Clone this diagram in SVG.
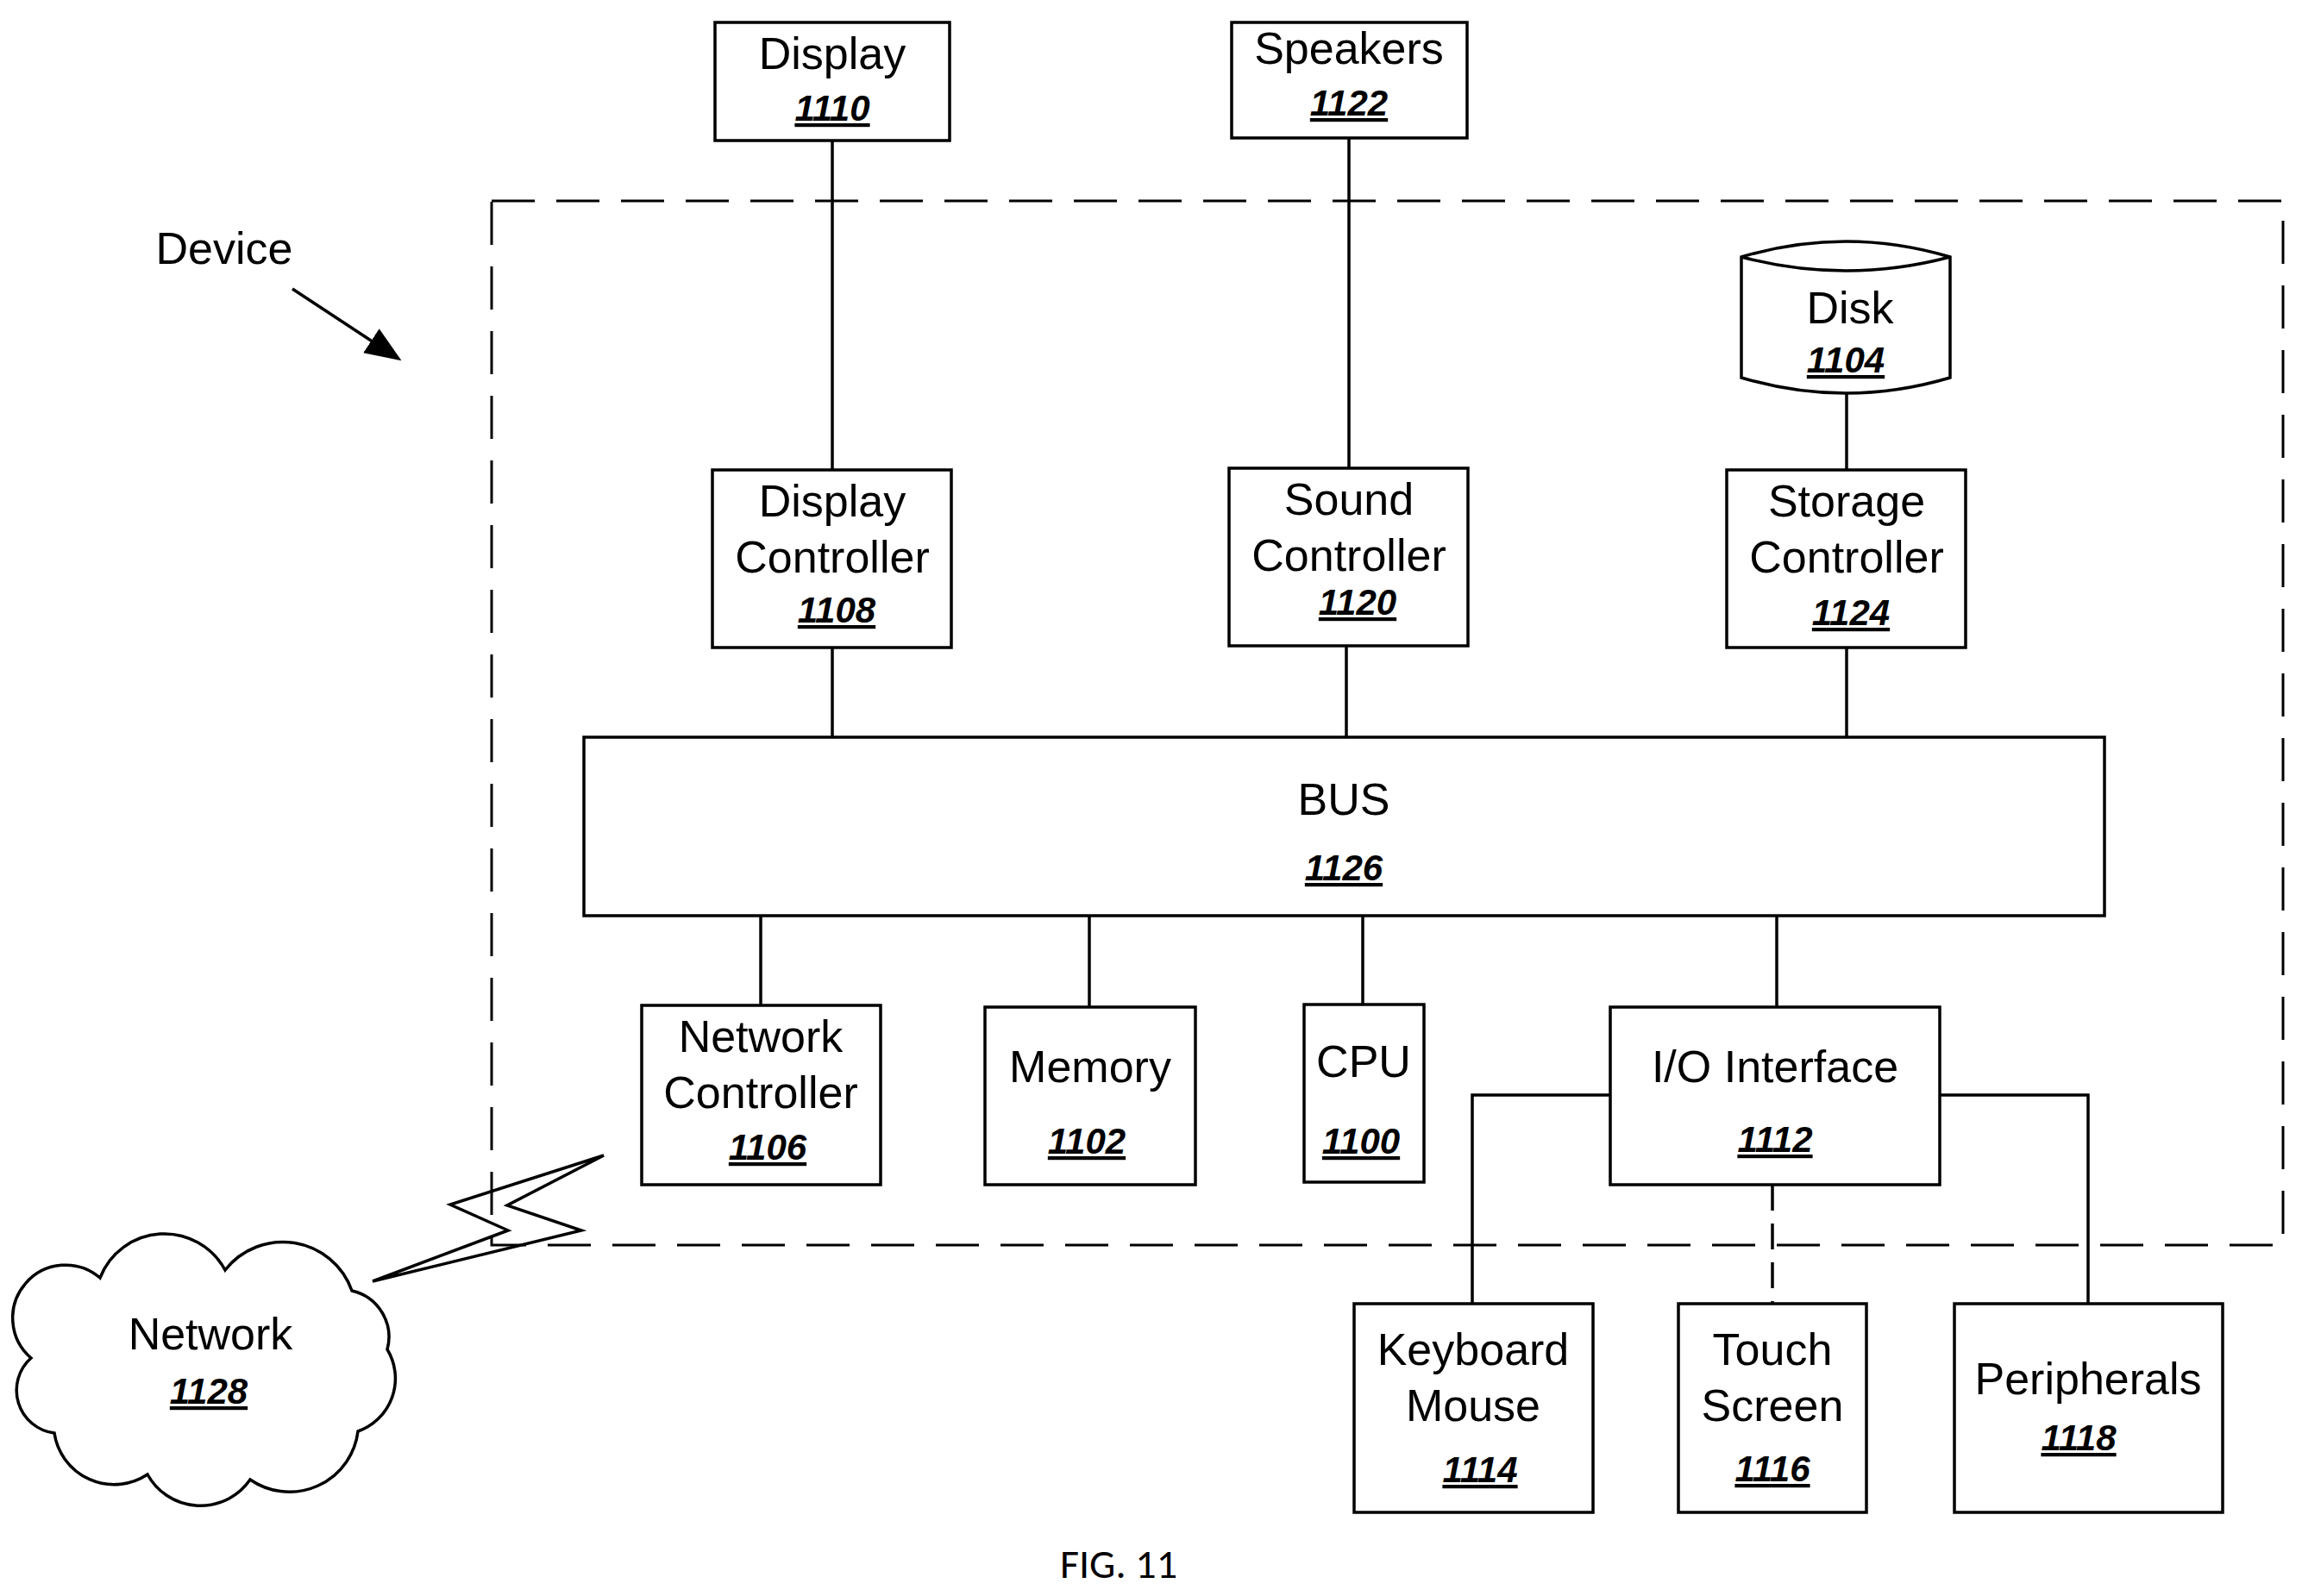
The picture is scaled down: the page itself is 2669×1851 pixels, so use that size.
<svg xmlns="http://www.w3.org/2000/svg" width="2669" height="1851" viewBox="0 0 2669 1851">
<style>
.b{fill:#fff;stroke:#000;stroke-width:3.5}
.t{font-family:"Liberation Sans",Arial,sans-serif;font-size:52px;text-anchor:middle;fill:#000}
.n{font-family:"Liberation Sans Narrow","Liberation Sans",sans-serif;font-size:42px;font-weight:bold;font-style:italic;text-decoration:underline;text-anchor:middle;fill:#000}
.c{stroke:#000;stroke-width:3.5;fill:none}
</style>
<defs>
<marker id="ah2" viewBox="0 0 10 10" refX="9" refY="5" markerWidth="12" markerHeight="12" orient="auto"><path d="M0,1L10,5L0,9z" fill="#000"/></marker></defs>
<rect x="570" y="233" width="2077" height="1211" fill="none" stroke="#000" stroke-width="3" stroke-dasharray="50 25"/>
<text class="t" x="260" y="306">Device</text>
<line x1="339" y1="335" x2="462" y2="416" stroke="#000" stroke-width="3.5" marker-end="url(#ah2)"/>
<g id="connectors">
<line class="c" x1="965" y1="163" x2="965" y2="545"/>
<line class="c" x1="1564" y1="160" x2="1564" y2="543"/>
<line class="c" x1="2141" y1="455" x2="2141" y2="545"/>
<line class="c" x1="965" y1="751" x2="965" y2="855"/>
<line class="c" x1="1561" y1="749" x2="1561" y2="855"/>
<line class="c" x1="2141" y1="751" x2="2141" y2="855"/>
<line class="c" x1="882" y1="1062" x2="882" y2="1166"/>
<line class="c" x1="1263" y1="1062" x2="1263" y2="1168"/>
<line class="c" x1="1580" y1="1062" x2="1580" y2="1165"/>
<line class="c" x1="2060" y1="1062" x2="2060" y2="1168"/>
<polyline class="c" points="1867,1270 1707,1270 1707,1512"/>
<polyline class="c" points="2249,1270 2421,1270 2421,1512"/>
<line class="c" x1="2055" y1="1374" x2="2055" y2="1512" stroke-dasharray="30 15"/>
<path class="c" d="M700,1340L522,1397L589,1427L432,1486L674,1427L588,1398Z" fill="#fff"/>
</g>
<g id="display"><rect class="b" x="829" y="26" width="272" height="137"/><text class="t" x="965" y="80">Display</text><text class="n" x="965" y="140">1110</text></g>
<g id="speakers"><rect class="b" x="1428" y="26" width="273" height="134"/><text class="t" x="1564" y="74">Speakers</text><text class="n" x="1564" y="134">1122</text></g>
<g id="disk"><path class="b" d="M2019,298Q2140,262 2261,298L2261,438Q2140,474 2019,438Z"/><path class="c" d="M2019,298Q2140,330 2261,298"/><text class="t" x="2145" y="375">Disk</text><text class="n" x="2140" y="432">1104</text></g>
<g id="dispctrl"><rect class="b" x="826" y="545" width="277" height="206"/><text class="t" x="965" y="599">Display</text><text class="t" x="965" y="664">Controller</text><text class="n" x="970" y="722">1108</text></g>
<g id="soundctrl"><rect class="b" x="1425" y="543" width="277" height="206"/><text class="t" x="1564" y="597">Sound</text><text class="t" x="1564" y="662">Controller</text><text class="n" x="1574" y="713">1120</text></g>
<g id="storagectrl"><rect class="b" x="2002" y="545" width="277" height="206"/><text class="t" x="2141" y="599">Storage</text><text class="t" x="2141" y="664">Controller</text><text class="n" x="2146" y="725">1124</text></g>
<g id="bus"><rect class="b" x="677" y="855" width="1763" height="207"/><text class="t" x="1558" y="945">BUS</text><text class="n" x="1558" y="1021">1126</text></g>
<g id="netctrl"><rect class="b" x="744" y="1166" width="277" height="208"/><text class="t" x="882" y="1220">Network</text><text class="t" x="882" y="1285">Controller</text><text class="n" x="890" y="1345">1106</text></g>
<g id="memory"><rect class="b" x="1142" y="1168" width="244" height="206"/><text class="t" x="1264" y="1255">Memory</text><text class="n" x="1260" y="1338">1102</text></g>
<g id="cpu"><rect class="b" x="1512" y="1165" width="139" height="206"/><text class="t" x="1581" y="1249">CPU</text><text class="n" x="1578" y="1338">1100</text></g>
<g id="io"><rect class="b" x="1867" y="1168" width="382" height="206"/><text class="t" x="2058" y="1255">I/O Interface</text><text class="n" x="2058" y="1336">1112</text></g>
<g id="keyboard"><rect class="b" x="1570" y="1512" width="277" height="242"/><text class="t" x="1708" y="1583">Keyboard</text><text class="t" x="1708" y="1648">Mouse</text><text class="n" x="1716" y="1719">1114</text></g>
<g id="touch"><rect class="b" x="1946" y="1512" width="218" height="242"/><text class="t" x="2055" y="1583">Touch</text><text class="t" x="2055" y="1648">Screen</text><text class="n" x="2055" y="1718">1116</text></g>
<g id="peripherals"><rect class="b" x="2266" y="1512" width="311" height="242"/><text class="t" x="2421" y="1617">Peripherals</text><text class="n" x="2410" y="1682">1118</text></g>
<g id="network"><path class="b" d="M116,1482A80,80 0 0 1 261,1473A85,85 0 0 1 408,1497A55,55 0 0 1 449,1565A65,65 0 0 1 415,1660A80,80 0 0 1 290,1716A70,70 0 0 1 171,1710A70,70 0 0 1 63,1662A50,50 0 0 1 36,1575A60,60 0 0 1 116,1482Z"/><text class="t" x="244" y="1565">Network</text><text class="n" x="242" y="1628">1128</text></g>
<text x="1297" y="1830" font-family="Carlito,Calibri,'Liberation Sans',sans-serif" font-size="48" text-anchor="middle">FIG. 11</text>
</svg>
